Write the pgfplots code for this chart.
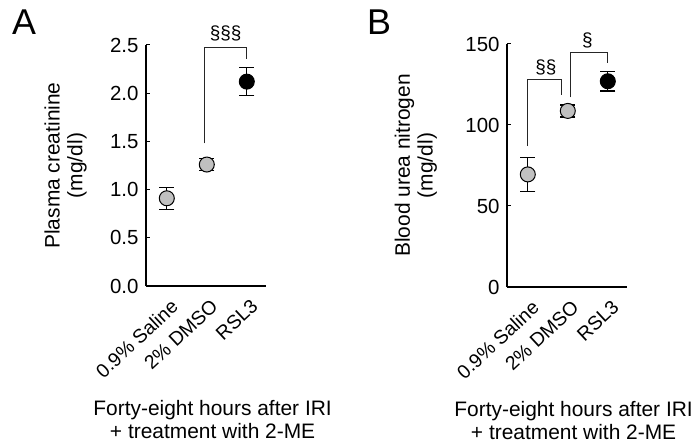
\documentclass[border=0pt]{standalone}
\usepackage{fontspec}
\setmainfont{Liberation Sans}
\usepackage{pgfplots}
\pgfplotsset{compat=1.18}
\definecolor{ptgray}{HTML}{C0C0C0}
\pgfplotsset{
  myaxis/.style={
    scale only axis, width=120bp, anchor=south west,
    axis lines=left, axis line style={line width=1.2bp, -},
    clip=false,
    xmin=-0.52, xmax=2.48,
    xtick={0,1,2},
    xticklabels={0.9\% Saline, 2\% DMSO, RSL3},
    major x tick style={draw=none},
    tick align=inside, major tick length=4bp,
    major y tick style={line width=1bp, black},
    yticklabel style={font=\fontsize{20.5}{24}\selectfont, xshift=-4bp},
    xticklabel style={font=\fontsize{19.5}{22}\selectfont, xshift=3bp, yshift=-12bp, rotate=43, anchor=north east, inner sep=0pt},
    /pgf/number format/assume math mode=true,
    label style={font=\fontsize{21}{23}\selectfont, align=center},
    xlabel style={at={(axis description cs:0.555,0)}, anchor=north, yshift=-111bp},
  },
  pt/.style={only marks, mark=*, mark size=7.5bp,
    mark options={draw=black, fill=#1, line width=1bp},
    error bars/.cd, y dir=both, y explicit,
    error bar style={line width=1.3bp, black},
    error mark options={rotate=90, mark size=7.5bp, line width=1.3bp},
    /pgfplots/.cd},
  br/.style={no marks, black!85, line width=0.8bp, forget plot},
}
\begin{document}
\begin{tikzpicture}
\useasboundingbox (0,0) rectangle (696bp,446bp);
\node[anchor=base west, inner sep=0pt, font=\fontsize{36}{36}\selectfont] at (12bp,411bp) {A};
\node[anchor=base west, inner sep=0pt, font=\fontsize{36}{36}\selectfont] at (367bp,411bp) {B};
% Panel A
\begin{axis}[myaxis, at={(146bp,160bp)}, height=241bp,
  ymin=0, ymax=2.5, ytick={0,0.5,...,2.5},
  yticklabel style={/pgf/number format/.cd, fixed, fixed zerofill, precision=1},
  ylabel={Plasma creatinine\\(mg/dl)},
  ylabel style={at={(axis description cs:-0.67,0.5)}, anchor=center},
  xlabel={Forty-eight hours after IRI\\+ treatment with 2-ME}]
\addplot[br] coordinates {(0.94,1.48) (0.94,2.48) (1.99,2.48) (1.99,2.35)};
\addplot[pt=ptgray] coordinates {(0,0.91) +- (0,0.115) (1,1.26) +- (0,0.065)};
\addplot[pt=black] coordinates {(2,2.12) +- (0,0.145)};
\node[font=\fontsize{19}{19}\selectfont] at (axis cs:1.47,2.62) {§§§};
\end{axis}
% Panel B
\begin{axis}[myaxis, at={(507bp,159bp)}, height=243bp,
  ymin=0, ymax=150, ytick={0,50,100,150},
  ylabel={Blood urea nitrogen\\(mg/dl)},
  ylabel style={at={(axis description cs:-0.76,0.5)}, anchor=center},
  xlabel={Forty-eight hours after IRI\\+ treatment with 2-ME}]
\addplot[br] coordinates {(0,87) (0,128.4) (0.84,128.4) (0.84,118.5)};
\addplot[br] coordinates {(1.07,117) (1.07,145) (2.0,145) (2.0,138)};
\addplot[pt=ptgray] coordinates {(0,69.5) +- (0,10.5) (1,108.7) +- (0,3.7)};
\addplot[pt=black] coordinates {(2,127) +- (0,6)};
\node[font=\fontsize{19}{19}\selectfont] at (axis cs:0.45,135.5) {§§};
\node[font=\fontsize{19}{19}\selectfont] at (axis cs:1.49,152) {§};
\end{axis}
\end{tikzpicture}
\end{document}
